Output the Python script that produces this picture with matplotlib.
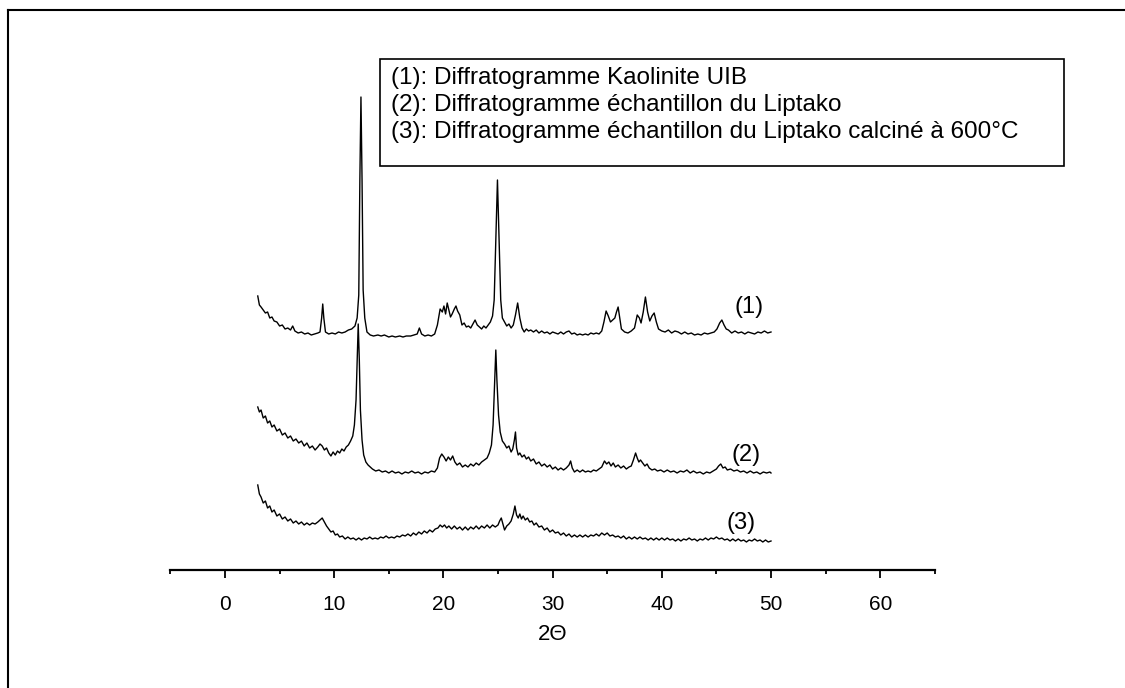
import matplotlib
matplotlib.use("Agg")
import matplotlib.pyplot as plt
from matplotlib.lines import Line2D
from matplotlib.patches import Rectangle
from matplotlib.ticker import MultipleLocator

plt.rcParams['font.family'] = ['Liberation Sans', 'DejaVu Sans']

# 2-theta positions and intensities (a.u.)
x1 = [3.0, 3.15, 3.3, 3.5, 3.7, 3.9, 4.1, 4.3, 4.5, 4.75, 5.0, 5.25, 5.5, 5.75, 6.0, 6.2, 6.4, 6.7, 7.0, 7.3,
      7.6, 7.9, 8.2, 8.5, 8.7, 8.85, 8.95, 9.05, 9.2, 9.5, 9.8, 10.1, 10.4, 10.7, 11.0, 11.3, 11.6, 11.9, 12.1, 12.25,
      12.35, 12.45, 12.55, 12.65, 12.8, 13.0, 13.3, 13.6, 14.0, 14.3, 14.6, 15.0, 15.3, 15.6, 16.0, 16.3, 16.6, 17.0, 17.3, 17.6,
      17.8, 18.0, 18.3, 18.6, 18.9, 19.2, 19.45, 19.7, 19.9, 20.05, 20.2, 20.35, 20.5, 20.65, 20.8, 21.0, 21.15, 21.3, 21.5, 21.7,
      21.9, 22.1, 22.3, 22.5, 22.7, 22.9, 23.1, 23.3, 23.5, 23.7, 23.9, 24.1, 24.3, 24.5, 24.65, 24.8, 24.95, 25.1, 25.25, 25.4,
      25.6, 25.8, 26.0, 26.2, 26.4, 26.6, 26.8, 27.0, 27.2, 27.4, 27.6, 27.8, 28.0, 28.25, 28.5, 28.75, 29.0, 29.25, 29.5, 29.75,
      30.0, 30.25, 30.5, 30.75, 31.0, 31.25, 31.5, 31.75, 32.0, 32.25, 32.5, 32.75, 33.0, 33.25, 33.5, 33.75, 34.0, 34.25, 34.5, 34.7,
      34.9, 35.1, 35.3, 35.5, 35.7, 35.85, 36.0, 36.15, 36.3, 36.6, 36.9, 37.2, 37.5, 37.75, 37.95, 38.1, 38.3, 38.5, 38.7, 38.9,
      39.1, 39.3, 39.5, 39.7, 40.0, 40.3, 40.6, 40.9, 41.2, 41.5, 41.8, 42.1, 42.4, 42.7, 43.0, 43.3, 43.6, 43.9, 44.2, 44.5,
      44.8, 45.05, 45.3, 45.5, 45.7, 45.9, 46.1, 46.4, 46.7, 47.0, 47.3, 47.6, 47.9, 48.2, 48.5, 48.8, 49.1, 49.4, 49.7, 50.0]
i1 = [274, 265, 263, 260, 257, 258, 252, 253, 249, 248, 244, 245, 241, 242, 240, 244, 239, 237, 238, 236,
      237, 235, 236, 237, 238, 252, 266, 252, 238, 236, 237, 236, 238, 237, 238, 240, 241, 244, 252, 275,
      390, 473, 390, 280, 252, 238, 235, 234, 235, 234, 235, 233, 234, 233, 234, 233, 234, 234, 235, 236,
      242, 236, 234, 235, 234, 236, 245, 261, 258, 264, 256, 267, 260, 253, 256, 261, 264, 259, 255, 245,
      247, 243, 244, 242, 246, 250, 245, 243, 241, 244, 242, 245, 248, 254, 270, 330, 390, 330, 270, 252,
      248, 244, 246, 242, 245, 255, 267, 252, 242, 238, 241, 239, 240, 238, 240, 237, 239, 237, 238, 236,
      238, 237, 236, 238, 236, 238, 239, 236, 237, 235, 236, 235, 236, 235, 237, 236, 237, 236, 239, 248,
      259, 254, 248, 250, 252, 258, 263, 252, 241, 238, 237, 239, 242, 255, 252, 247, 258, 273, 258, 249,
      254, 257, 248, 241, 239, 238, 240, 237, 239, 238, 236, 238, 236, 237, 235, 236, 235, 237, 236, 237,
      238, 241, 247, 250, 245, 241, 240, 237, 239, 237, 238, 236, 238, 237, 236, 238, 237, 239, 237, 238]

x2 = [3.0, 3.15, 3.3, 3.5, 3.7, 3.9, 4.1, 4.3, 4.5, 4.75, 5.0, 5.25, 5.5, 5.75, 6.0, 6.25, 6.5, 6.75, 7.0, 7.25,
      7.5, 7.75, 8.0, 8.25, 8.5, 8.7, 8.9, 9.1, 9.3, 9.5, 9.7, 9.9, 10.1, 10.3, 10.5, 10.7, 10.9, 11.1, 11.3, 11.5,
      11.7, 11.85, 12.0, 12.1, 12.2, 12.3, 12.4, 12.55, 12.7, 12.9, 13.1, 13.3, 13.5, 13.8, 14.1, 14.4, 14.7, 15.0, 15.3, 15.6,
      15.9, 16.2, 16.5, 16.8, 17.1, 17.4, 17.7, 18.0, 18.3, 18.6, 18.9, 19.2, 19.45, 19.65, 19.85, 20.05, 20.25, 20.45, 20.65, 20.85,
      21.05, 21.25, 21.5, 21.75, 22.0, 22.25, 22.5, 22.75, 23.0, 23.25, 23.5, 23.75, 24.0, 24.2, 24.4, 24.55, 24.7, 24.8, 24.9, 25.05,
      25.2, 25.4, 25.6, 25.8, 26.0, 26.2, 26.35, 26.5, 26.6, 26.7, 26.85, 27.0, 27.2, 27.4, 27.6, 27.8, 28.0, 28.25, 28.5, 28.75,
      29.0, 29.25, 29.5, 29.75, 30.0, 30.25, 30.5, 30.75, 31.0, 31.25, 31.5, 31.65, 31.8, 32.0, 32.25, 32.5, 32.75, 33.0, 33.25, 33.5,
      33.75, 34.0, 34.25, 34.5, 34.75, 34.95, 35.15, 35.35, 35.55, 35.75, 36.0, 36.25, 36.5, 36.75, 37.0, 37.2, 37.4, 37.6, 37.75, 37.9,
      38.05, 38.25, 38.45, 38.65, 38.85, 39.1, 39.35, 39.6, 39.9, 40.2, 40.5, 40.8, 41.1, 41.4, 41.7, 42.0, 42.3, 42.6, 42.9, 43.2,
      43.5, 43.8, 44.1, 44.4, 44.7, 45.0, 45.2, 45.4, 45.6, 45.8, 46.0, 46.3, 46.6, 46.9, 47.2, 47.5, 47.8, 48.1, 48.4, 48.7,
      49.0, 49.3, 49.6, 49.9, 50.0]
i2 = [163, 158, 160, 152, 154, 147, 149, 143, 145, 139, 141, 135, 137, 132, 134, 129, 131, 127, 129, 124,
      127, 122, 124, 120, 123, 126, 124, 120, 122, 117, 114, 118, 115, 119, 117, 121, 119, 123, 125, 129,
      134, 145, 170, 210, 246, 210, 160, 130, 115, 108, 105, 103, 101, 99, 100, 98, 99, 97, 99, 97,
      98, 96, 98, 97, 99, 97, 98, 96, 98, 97, 99, 98, 102, 112, 116, 113, 109, 113, 110, 114,
      108, 105, 107, 103, 105, 103, 106, 104, 107, 105, 108, 110, 112, 117, 125, 145, 190, 220, 190, 155,
      138, 129, 126, 122, 124, 118, 121, 130, 138, 122, 115, 117, 113, 115, 111, 113, 109, 111, 106, 108,
      104, 106, 103, 105, 101, 103, 100, 102, 100, 102, 105, 109, 102, 98, 100, 98, 100, 98, 99, 98,
      100, 99, 101, 103, 109, 106, 108, 104, 107, 103, 105, 102, 104, 101, 103, 104, 110, 117, 112, 108,
      110, 107, 104, 106, 102, 100, 101, 99, 100, 98, 100, 98, 99, 97, 99, 98, 100, 97, 99, 97,
      98, 96, 98, 97, 99, 101, 104, 106, 102, 103, 100, 101, 99, 100, 98, 99, 97, 99, 97, 98,
      96, 98, 97, 98, 97]

x3 = [3.0, 3.15, 3.3, 3.5, 3.7, 3.9, 4.1, 4.3, 4.5, 4.75, 5.0, 5.25, 5.5, 5.75, 6.0, 6.25, 6.5, 6.75, 7.0, 7.25,
      7.5, 7.75, 8.0, 8.25, 8.5, 8.7, 8.9, 9.1, 9.3, 9.5, 9.7, 9.9, 10.1, 10.3, 10.5, 10.75, 11.0, 11.25, 11.5, 11.75,
      12.0, 12.25, 12.5, 12.75, 13.0, 13.25, 13.5, 13.75, 14.0, 14.25, 14.5, 14.75, 15.0, 15.25, 15.5, 15.75, 16.0, 16.25, 16.5, 16.75,
      17.0, 17.25, 17.5, 17.75, 18.0, 18.25, 18.5, 18.75, 19.0, 19.25, 19.5, 19.7, 19.9, 20.1, 20.3, 20.5, 20.75, 21.0, 21.25, 21.5,
      21.75, 22.0, 22.25, 22.5, 22.75, 23.0, 23.25, 23.5, 23.75, 24.0, 24.25, 24.5, 24.75, 25.0, 25.15, 25.3, 25.45, 25.6, 25.8, 26.0,
      26.2, 26.4, 26.55, 26.7, 26.85, 27.0, 27.15, 27.3, 27.5, 27.7, 27.9, 28.1, 28.3, 28.5, 28.75, 29.0, 29.25, 29.5, 29.75, 30.0,
      30.25, 30.5, 30.75, 31.0, 31.25, 31.5, 31.75, 32.0, 32.25, 32.5, 32.75, 33.0, 33.25, 33.5, 33.75, 34.0, 34.25, 34.5, 34.75, 35.0,
      35.25, 35.5, 35.75, 36.0, 36.25, 36.5, 36.75, 37.0, 37.25, 37.5, 37.75, 38.0, 38.25, 38.5, 38.75, 39.0, 39.25, 39.5, 39.75, 40.0,
      40.25, 40.5, 40.75, 41.0, 41.25, 41.5, 41.75, 42.0, 42.25, 42.5, 42.75, 43.0, 43.25, 43.5, 43.75, 44.0, 44.25, 44.5, 44.75, 45.0,
      45.25, 45.5, 45.75, 46.0, 46.25, 46.5, 46.75, 47.0, 47.25, 47.5, 47.75, 48.0, 48.25, 48.5, 48.75, 49.0, 49.25, 49.5, 49.75, 50.0]
i3 = [85, 76, 73, 67, 69, 62, 64, 58, 60, 54, 56, 51, 53, 49, 51, 47, 49, 46, 48, 45,
      47, 45, 47, 46, 48, 50, 52, 48, 44, 41, 38, 39, 35, 36, 33, 34, 31, 33, 31, 32,
      30, 32, 30, 32, 31, 33, 31, 32, 31, 33, 32, 34, 32, 33, 32, 34, 33, 35, 34, 36,
      34, 37, 35, 38, 36, 39, 37, 40, 38, 41, 42, 45, 43, 45, 42, 44, 41, 44, 41, 43,
      40, 43, 40, 43, 41, 44, 41, 44, 42, 45, 42, 45, 43, 45, 49, 52, 46, 40, 44, 46,
      49, 56, 64, 55, 52, 56, 51, 54, 50, 52, 48, 49, 45, 47, 43, 44, 40, 42, 38, 40,
      37, 38, 35, 37, 34, 36, 33, 35, 33, 35, 33, 35, 33, 35, 34, 36, 34, 37, 35, 37,
      34, 35, 33, 34, 32, 34, 31, 33, 31, 33, 31, 33, 31, 32, 30, 32, 30, 32, 30, 32,
      30, 32, 30, 31, 29, 31, 29, 31, 30, 32, 30, 31, 29, 31, 30, 32, 30, 32, 31, 33,
      31, 32, 30, 31, 29, 31, 29, 31, 29, 30, 28, 30, 29, 31, 29, 30, 28, 30, 28, 29]

tags = ['(1)', '(2)', '(3)']
legend_lines = ['(1): Diffratogramme Kaolinite UIB',
                '(2): Diffratogramme échantillon du Liptako',
                '(3): Diffratogramme échantillon du Liptako calciné à 600°C']

fig = plt.figure(figsize=(11.25, 6.88), dpi=100)
ax = fig.add_axes([170.4 / 1125, 1 - 570 / 688, 764.4 / 1125, 510 / 688])

for xs, ys in [(x1, i1), (x2, i2), (x3, i3)]:
    ax.plot(xs, ys, color='black', lw=1.0)

# curve tags at the right end
ax.text(48.0, 263, tags[0], fontsize=17, ha='center', va='center')
ax.text(47.7, 115, tags[1], fontsize=17, ha='center', va='center')
ax.text(47.3, 47, tags[2], fontsize=17, ha='center', va='center')

ax.set_xlim(-5, 65)
ax.set_ylim(0, 510)
for s in ['left', 'right', 'top']:
    ax.spines[s].set_visible(False)
ax.spines['bottom'].set_linewidth(1.6)
ax.set_yticks([])
ax.xaxis.set_major_locator(MultipleLocator(10))
ax.xaxis.set_minor_locator(MultipleLocator(5))
ax.tick_params(axis='x', which='major', direction='out', length=6, width=1.3, labelsize=15, pad=12)
ax.tick_params(axis='x', which='minor', direction='out', length=3, width=1.3)
ax.set_xlabel('2\u0398', fontsize=16, labelpad=7)
ax.patch.set_visible(False)

# legend box drawn by hand (text only, no handles)
fig.add_artist(Rectangle((380 / 1125, 1 - 166 / 688), 684 / 1125, 107 / 688,
                         transform=fig.transFigure, fill=False, edgecolor='black', lw=1.2))
for k, s in enumerate(legend_lines):
    fig.text(391 / 1125, 1 - (78 + 27 * k) / 688, s, fontsize=17.5, ha='left', va='center')

# outer frame: top and left edges only
fig.add_artist(Line2D([7.7 / 1125, 1.0], [1 - 10.3 / 688, 1 - 10.3 / 688], color='black', lw=1.5, transform=fig.transFigure))
fig.add_artist(Line2D([7.7 / 1125, 7.7 / 1125], [0, 1 - 10.3 / 688], color='black', lw=1.5, transform=fig.transFigure))

fig.savefig('out.png', dpi=100)
